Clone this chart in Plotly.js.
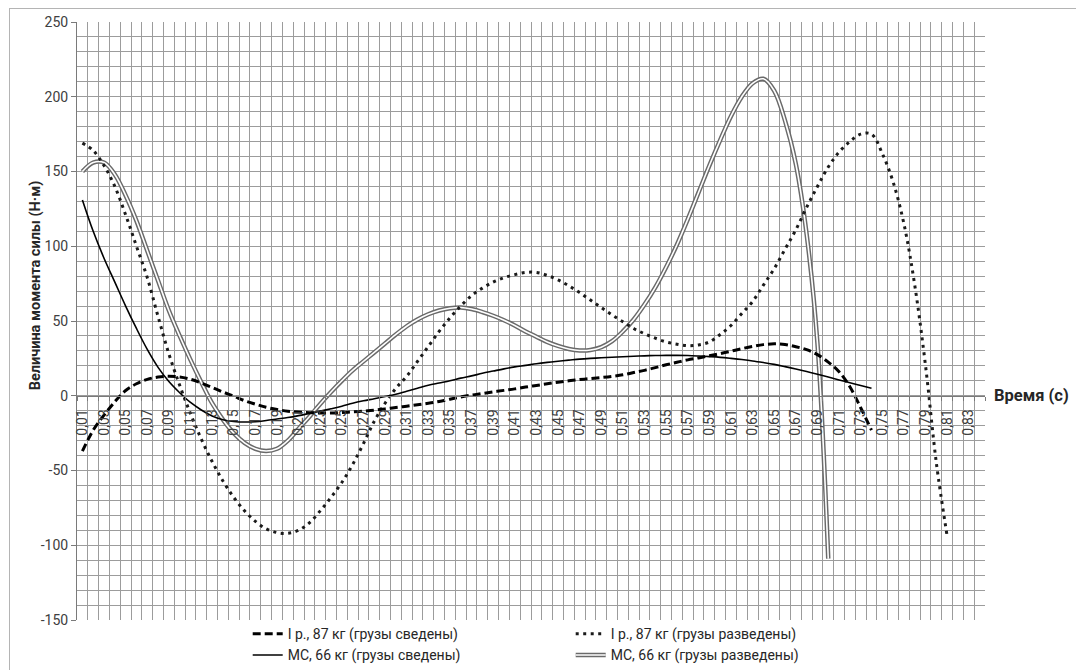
<!DOCTYPE html>
<html>
<head>
<meta charset="utf-8">
<script src="https://cdn.plot.ly/plotly-3.0.1.min.js"></script>
<style>
html,body{margin:0;padding:0;background:#fff;overflow:hidden;}
#wrap{position:relative;width:1076px;height:670px;overflow:hidden;}
#chart{position:absolute;left:0;top:0;width:1076px;height:670px;}
#frame{position:absolute;left:9px;top:8px;width:1200px;height:800px;border:1px solid #b4b4b4;pointer-events:none;}
</style>
</head>
<body>
<div id="wrap"><div id="chart"></div><div id="frame"></div></div>
<script>
// Time categories (s)
const time = [0.01,0.02,0.03,0.04,0.05,0.06,0.07,0.08,0.09,0.10,
  0.11,0.12,0.13,0.14,0.15,0.16,0.17,0.18,0.19,0.20,
  0.21,0.22,0.23,0.24,0.25,0.26,0.27,0.28,0.29,0.30,
  0.31,0.32,0.33,0.34,0.35,0.36,0.37,0.38,0.39,0.40,
  0.41,0.42,0.43,0.44,0.45,0.46,0.47,0.48,0.49,0.50,
  0.51,0.52,0.53,0.54,0.55,0.56,0.57,0.58,0.59,0.60,
  0.61,0.62,0.63,0.64,0.65,0.66,0.67,0.68,0.69,0.70,
  0.71,0.72,0.73,0.74,0.75,0.76,0.77,0.78,0.79,0.80,
  0.81,0.82,0.83,0.84];

const tickVals = [0.01,0.03,0.05,0.07,0.09,0.11,0.13,0.15,0.17,0.19,0.21,0.23,0.25,0.27,0.29,
  0.31,0.33,0.35,0.37,0.39,0.41,0.43,0.45,0.47,0.49,0.51,0.53,0.55,0.57,0.59,
  0.61,0.63,0.65,0.67,0.69,0.71,0.73,0.75,0.77,0.79,0.81,0.83];
const tickLabels = ["0,01","0,03","0,05","0,07","0,09","0,11","0,13","0,15","0,17","0,19","0,21","0,23","0,25","0,27","0,29",
  "0,31","0,33","0,35","0,37","0,39","0,41","0,43","0,45","0,47","0,49","0,51","0,53","0,55","0,57","0,59",
  "0,61","0,63","0,65","0,67","0,69","0,71","0,73","0,75","0,77","0,79","0,81","0,83"];
const yTickVals = [-150,-100,-50,0,50,100,150,200,250];
const yTickLabels = ["-150","-100","-50","0","50","100","150","200","250"];

// I р., 87 кг (грузы сведены) — 0.01 … 0.74
const irClosed = [-37,-23,-13,-4,3.5,8,11,12.5,13,12.5,
  11,8.5,5.5,2.5,-0.3,-3.3,-5.6,-7.7,-9.2,-10.3,
  -10.9,-11.3,-11.5,-11.5,-11.2,-10.8,-10.3,-9.7,-8.8,-7.9,
  -7,-6,-5,-3.8,-2.3,-0.8,0.4,1.5,2.6,3.6,
  4.6,5.8,6.9,8,9.1,10,10.8,11.5,12.2,13,
  14,15.5,17,18.8,20.7,22.4,24,25.3,26.7,28.2,
  29.8,31.5,33,34.2,34.7,34.3,32.8,30.8,27.5,22.5,
  16,6,-8,-23];

// I р., 87 кг (грузы разведены) — 0.01 … 0.81
const irOpen = [169,164,154,140,121,100,79,53,28,7,
  -12,-29,-44,-57,-68,-77,-84,-89,-91.5,-92,
  -90,-85,-77,-68,-58,-46,-32,-17,-5,5,
  13,23,33,43,52,60,67,72,76,79,
  81,82.5,82.5,80.5,77.5,73.5,69,64,59,54,
  49.5,45,41.5,38.5,36,34.5,33.5,34,36,41,
  47,55,63,74,85,98,111,126,140,153,
  163,170,175,175,162,143,115,74,20,-45,
  -94];

// МС, 66 кг (грузы сведены) — 0.01 … 0.74
const msClosed = [131,110,92,76,60,45,31,19,9.5,2,
  -4.5,-9.5,-13.5,-16,-17.2,-17.6,-17.4,-16.6,-15.6,-14.6,
  -13.3,-11.8,-10.3,-8.7,-7,-5,-3.4,-2,-0.5,1,
  3,5,7,8.5,10,11.8,13.3,15,16.5,18,
  19.3,20.3,21.4,22.3,23.1,23.8,24.5,25,25.4,25.8,
  26.1,26.4,26.7,26.9,27,27,26.9,26.6,26.2,25.7,
  25,24.2,23.3,22.2,21,19.5,17.9,16.2,14.4,12.5,
  10.6,8.7,6.8,5];

// МС, 66 кг (грузы разведены) — 0.01 … 0.70
const msOpen = [150,156,156,148,134,117,97,77,57,40,
  24,9,-5,-16,-25,-31.5,-35.5,-37,-35.5,-30,
  -22,-14,-5.5,2.5,10,17,23,29,35,41,
  46.5,51,54.5,57,58.5,59,58,56,53.5,50.5,
  47,43,39.5,36,33.3,31.3,30.3,30.6,32.5,36.5,
  43,51,61,72.5,86,101,118,136,154,171,
  187,200,209,212,204,184,155,108,35,-109];

const names = ["I р., 87 кг (грузы сведены)","I р., 87 кг (грузы разведены)",
  "МС, 66 кг (грузы сведены)","МС, 66 кг (грузы разведены)"];

const xs = n => time.slice(0, n);
const FONT = "Roboto, 'Noto Sans', sans-serif";
const DOUBLE_OUT = '#6a6a6a', DOUBLE_IN = '#ffffff';

const traces = [
  {x: xs(msOpen.length), y: msOpen, name: names[3], mode: 'lines', legendrank: 4,
   line: {color: DOUBLE_OUT, width: 4.5, shape: 'spline', smoothing: 1}},
  {x: xs(msOpen.length), y: msOpen, name: names[3], mode: 'lines', showlegend: false,
   line: {color: DOUBLE_IN, width: 1.6, shape: 'spline', smoothing: 1}},
  {x: xs(irOpen.length), y: irOpen, name: names[1], mode: 'lines', legendrank: 2,
   line: {color: '#1a1a1a', width: 3, dash: '3px,4.5px', shape: 'spline', smoothing: 1}},
  {x: xs(irClosed.length), y: irClosed, name: names[0], mode: 'lines', legendrank: 1,
   line: {color: '#000000', width: 3, dash: '8px,4px', shape: 'spline', smoothing: 1}},
  {x: xs(msClosed.length), y: msClosed, name: names[2], mode: 'lines', legendrank: 3,
   line: {color: '#000000', width: 1.6, shape: 'spline', smoothing: 1}}
];

const gridC = '#9c9c9c';
const layout = {
  width: 1076, height: 670,
  margin: {l: 77, r: 91, t: 22, b: 50, pad: 0, autoexpand: false},
  paper_bgcolor: '#ffffff', plot_bgcolor: '#ffffff',
  font: {family: FONT, color: '#404040'},
  showlegend: true,
  xaxis: {
    range: [0.005, 0.845], anchor: 'free', position: 0.375,
    showline: true, linecolor: '#7a7a7a', linewidth: 1,
    tickmode: 'array', tickvals: tickVals, ticktext: tickLabels,
    tickangle: -90, ticks: 'outside', ticklen: 7, tickcolor: 'rgba(0,0,0,0)',
    showgrid: false, zeroline: false, automargin: false,
    tickfont: {size: 14, color: '#404040', family: FONT},
    minor: {tick0: 0.005, dtick: 0.01, showgrid: true, gridcolor: gridC, gridwidth: 1,
            ticks: 'outside', ticklen: 4, tickcolor: '#7a7a7a'}
  },
  yaxis: {
    range: [-150, 250], tickmode: 'array', tickvals: yTickVals, ticktext: yTickLabels,
    showgrid: true, gridcolor: gridC, gridwidth: 1,
    minor: {tick0: 0, dtick: 10, showgrid: true, gridcolor: gridC, gridwidth: 1},
    showline: true, linecolor: '#7a7a7a', linewidth: 1, ticks: 'outside', ticklen: 5,
    tickcolor: '#7a7a7a', zeroline: false, automargin: false,
    tickfont: {size: 14, color: '#404040', family: FONT}
  },
  legend: {
    orientation: 'h', x: 0.188, xanchor: 'left', y: 0.003, yanchor: 'top',
    entrywidth: 278, bgcolor: 'rgba(0,0,0,0)',
    font: {size: 14, color: '#262626', family: FONT}, itemwidth: 30
  },
  annotations: [
    {text: '<b>Время (с)</b>', xref: 'paper', yref: 'paper', x: 1.008, y: 0.375,
     xanchor: 'left', yanchor: 'middle', showarrow: false,
     font: {size: 16.5, color: '#262626', family: FONT}},
    {text: '<b>Величина момента силы (Н·м)</b>', xref: 'paper', yref: 'paper',
     x: -0.046, y: 0.56, xanchor: 'center', yanchor: 'middle', textangle: -90,
     showarrow: false, font: {size: 14.5, color: '#262626', family: FONT}}
  ]
};

Plotly.newPlot('chart', traces, layout, {displayModeBar: false, staticPlot: true}).then(gd => {
  // legend symbol of the double line: add the white inner stroke like the plotted line
  gd.querySelectorAll('.legend .traces').forEach(g => {
    const t = g.querySelector('.legendtext');
    if (t && t.textContent === names[3]) {
      const p = g.querySelector('path.js-line');
      if (p) {
        const c = p.cloneNode(true);
        c.style.stroke = DOUBLE_IN;
        c.style.strokeWidth = '1.6px';
        p.parentNode.appendChild(c);
      }
    }
  });
});
</script>
</body>
</html>
